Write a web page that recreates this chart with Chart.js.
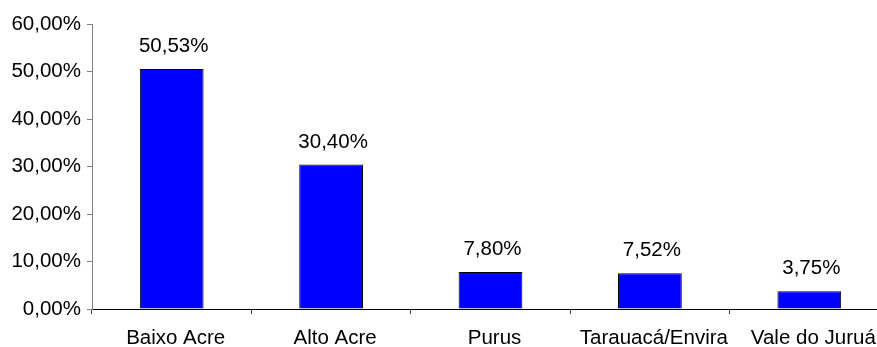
<!DOCTYPE html>
<html>
<head>
<meta charset="utf-8">
<script src="https://cdn.jsdelivr.net/npm/chart.js@4/dist/chart.umd.min.js"></script>
<style>
  html, body { margin: 0; padding: 0; background: #fff; overflow: hidden; }
  #wrap { width: 889px; height: 347px; }
</style>
</head>
<body>
<div id="wrap"><canvas id="barChart" width="889" height="347"></canvas></div>
<script>
// data
const regions = ['Baixo Acre', 'Alto Acre', 'Purus', 'Tarauacá/Envira', 'Vale do Juruá'];
const shares = [50.53, 30.40, 7.80, 7.52, 3.75];
const yMax = 60;
const yStep = 10;

const fontFamily = '"Liberation Sans", Arial, sans-serif';
const fontSize = 20.5;

function pct(v) {
    return v.toFixed(2).replace('.', ',') + '%';
}

// draws the value above each bar
const valueLabels = {
    id: 'valueLabels',
    afterDatasetsDraw(chart) {
        const ctx = chart.ctx;
        const meta = chart.getDatasetMeta(0);
        ctx.save();
        ctx.font = fontSize + 'px ' + fontFamily;
        ctx.fillStyle = '#000';
        ctx.textAlign = 'center';
        ctx.textBaseline = 'alphabetic';
        meta.data.forEach((bar, i) => {
            ctx.fillText(pct(shares[i]), bar.x + 2, bar.y - 17);
        });
        ctx.restore();
    }
};

new Chart('barChart', {
    type: 'bar',
    data: {
        labels: regions,
        datasets: [{
            data: shares,
            backgroundColor: '#0000FF',
            borderColor: '#000000',
            borderWidth: 1,
            barPercentage: 0.4,
            categoryPercentage: 1.0
        }]
    },
    options: {
        responsive: false,
        animation: false,
        layout: { padding: { top: 24, right: 0, bottom: 0, left: 0 } },
        plugins: {
            legend: { display: false },
            tooltip: { enabled: false }
        },
        scales: {
            x: {
                offset: true,
                grid: {
                    offset: true,
                    drawOnChartArea: false,
                    tickLength: 5,
                    color: '#404040'
                },
                border: { color: '#000000', width: 1 },
                ticks: {
                    color: '#000',
                    padding: 12,
                    labelOffset: 4,
                    maxRotation: 0,
                    autoSkip: false,
                    font: { family: fontFamily, size: fontSize }
                },
                afterFit(scale) { scale.height = 38; }
            },
            y: {
                min: 0,
                max: yMax,
                grid: {
                    drawOnChartArea: false,
                    tickLength: 5,
                    color: '#808080'
                },
                border: { color: '#808080', width: 1 },
                ticks: {
                    stepSize: yStep,
                    color: '#000',
                    padding: 6,
                    font: { family: fontFamily, size: fontSize },
                    callback: (v) => pct(v)
                },
                afterFit(scale) { scale.width = 92; }
            }
        }
    },
    plugins: [valueLabels]
});
</script>
</body>
</html>
